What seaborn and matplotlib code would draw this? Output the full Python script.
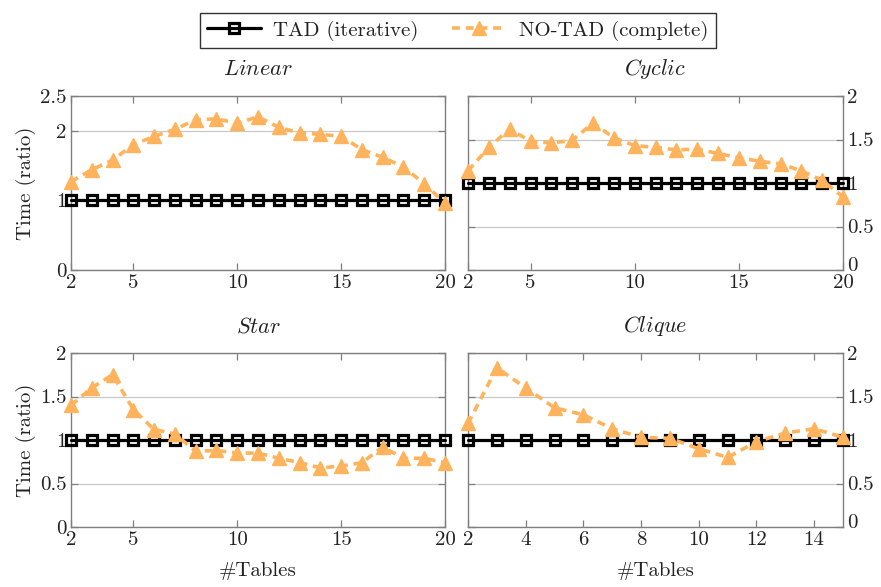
import matplotlib
matplotlib.use("Agg")
import matplotlib.pyplot as plt
import matplotlib.transforms as mtrans
import seaborn as sns
import pandas as pd

sns.set_theme(style="white")
plt.rcParams['font.family'] = ['cmr10', 'DejaVu Serif']
plt.rcParams['mathtext.fontset'] = 'cm'
plt.rcParams['axes.formatter.use_mathtext'] = True

# ---- data ----
x20 = list(range(2, 21))
x15 = list(range(2, 16))

linear_tad = [1.0] * 19
linear_notad = [1.27, 1.44, 1.58, 1.80, 1.92, 2.02, 2.16, 2.17, 2.11, 2.20,
                2.05, 1.97, 1.95, 1.92, 1.73, 1.62, 1.48, 1.24, 0.96]

cyclic_tad = [1.0] * 19
cyclic_notad = [1.14, 1.41, 1.62, 1.48, 1.46, 1.49, 1.69, 1.52, 1.43, 1.41,
                1.38, 1.39, 1.34, 1.29, 1.25, 1.22, 1.14, 1.03, 0.84]

star_tad = [1.0] * 19
star_notad = [1.40, 1.60, 1.75, 1.35, 1.12, 1.07, 0.87, 0.88, 0.85, 0.85,
              0.79, 0.74, 0.68, 0.70, 0.74, 0.92, 0.79, 0.79, 0.74]

clique_tad = [1.0] * 14
clique_notad = [1.19, 1.83, 1.60, 1.37, 1.29, 1.13, 1.03, 1.02, 0.90, 0.80,
                0.98, 1.08, 1.13, 1.03]

titles = ["Linear", "Cyclic", "Star", "Clique"]
series_names = ["TAD (iterative)", "NO-TAD (complete)"]
ylabel = "Time (ratio)"
xlabel = "#Tables"

panels = [
    (x20, linear_tad, linear_notad, [2, 5, 10, 15, 20], [0, 1, 2, 2.5], (0, 2.5)),
    (x20, cyclic_tad, cyclic_notad, [2, 5, 10, 15, 20], [0, 0.5, 1, 1.5, 2], (0, 2)),
    (x20, star_tad, star_notad, [2, 5, 10, 15, 20], [0, 0.5, 1, 1.5, 2], (0, 2)),
    (x15, clique_tad, clique_notad, [2, 4, 6, 8, 10, 12, 14], [0, 0.5, 1, 1.5, 2], (0, 2)),
]

W, H = 881, 587
fig = plt.figure(figsize=(W / 100, H / 100), dpi=100)

boxes = [
    (71, 445, 96, 270),
    (468, 843, 96, 270),
    (71, 445, 353, 527),
    (468, 843, 353, 527),
]

orange = '#ffb35c'
spine_c = '#7f7f7f'
txt_c = '#222222'
FS = 15

axes = []
for i, ((l, r, t, b), (xs, tad, notad, xt, yt, yl)) in enumerate(zip(boxes, panels)):
    ax = fig.add_axes([l / W, (H - b) / H, (r - l) / W, (b - t) / H])
    axes.append(ax)
    df = pd.DataFrame({'x': xs, 'tad': tad, 'notad': notad})
    sns.lineplot(data=df, x='x', y='tad', ax=ax, color='black', lw=2.3,
                 marker='s', markersize=7, markerfacecolor='none',
                 markeredgecolor='black', markeredgewidth=2.3,
                 clip_on=False, zorder=3, label=series_names[0], legend=False)
    sns.lineplot(data=df, x='x', y='notad', ax=ax, color=orange, lw=2.6,
                 linestyle=(0, (2.2, 1.6)), marker='^', markersize=10,
                 markerfacecolor=orange, markeredgecolor=orange,
                 markeredgewidth=1, clip_on=False, zorder=4,
                 label=series_names[1], legend=False)
    ax.set_xlim(xs[0], xs[-1])
    ax.set_ylim(*yl)
    ax.set_xticks(xt)
    ax.set_xticklabels([str(v) for v in xt])
    ax.set_yticks(yt)
    ax.set_yticklabels([('%g' % v) for v in yt])
    ax.yaxis.grid(True, color='#c8c8c8', lw=0.9)
    ax.xaxis.grid(False)
    ax.set_axisbelow(True)
    for s in ax.spines.values():
        s.set_color(spine_c)
        s.set_linewidth(1.0)
    ax.tick_params(axis='both', direction='in', length=5, width=0.9,
                   color=spine_c, labelsize=FS, labelcolor=txt_c,
                   top=True, bottom=True, left=True, right=True, pad=3)
    if i % 2 == 1:
        ax.tick_params(axis='y', labelleft=False, labelright=True)
        ax.set_ylabel('')
        # nudge the bottom "0" label up a little so it clears the x label "20"
        for lab in ax.get_yticklabels(which='major'):
            pass
        for tk in ax.yaxis.get_major_ticks():
            if abs(tk.get_loc()) < 1e-9:
                tk.label2.set_transform(tk.label2.get_transform() +
                                        mtrans.ScaledTranslation(0, 4 / 72, fig.dpi_scale_trans))
    else:
        ax.set_ylabel(ylabel, fontsize=FS, color=txt_c, labelpad=3)
    if i >= 2:
        ax.set_xlabel(xlabel, fontsize=FS, color=txt_c, labelpad=9)
    else:
        ax.set_xlabel('')
    ax.set_title(r'$\mathit{' + titles[i] + '}$', fontsize=16, pad=15,
                 color=txt_c)

handles, labels = axes[0].get_legend_handles_labels()
leg = fig.legend(handles, labels, loc='upper center',
                 bbox_to_anchor=(457.5 / W, 1 - 3 / H), ncol=2,
                 fontsize=FS, frameon=True, fancybox=False,
                 edgecolor='black', borderpad=0.35, columnspacing=1.6,
                 handlelength=2.6, handletextpad=0.6)
leg.get_frame().set_linewidth(1.0)
for t in leg.get_texts():
    t.set_color(txt_c)

fig.savefig('out.png', dpi=100)
